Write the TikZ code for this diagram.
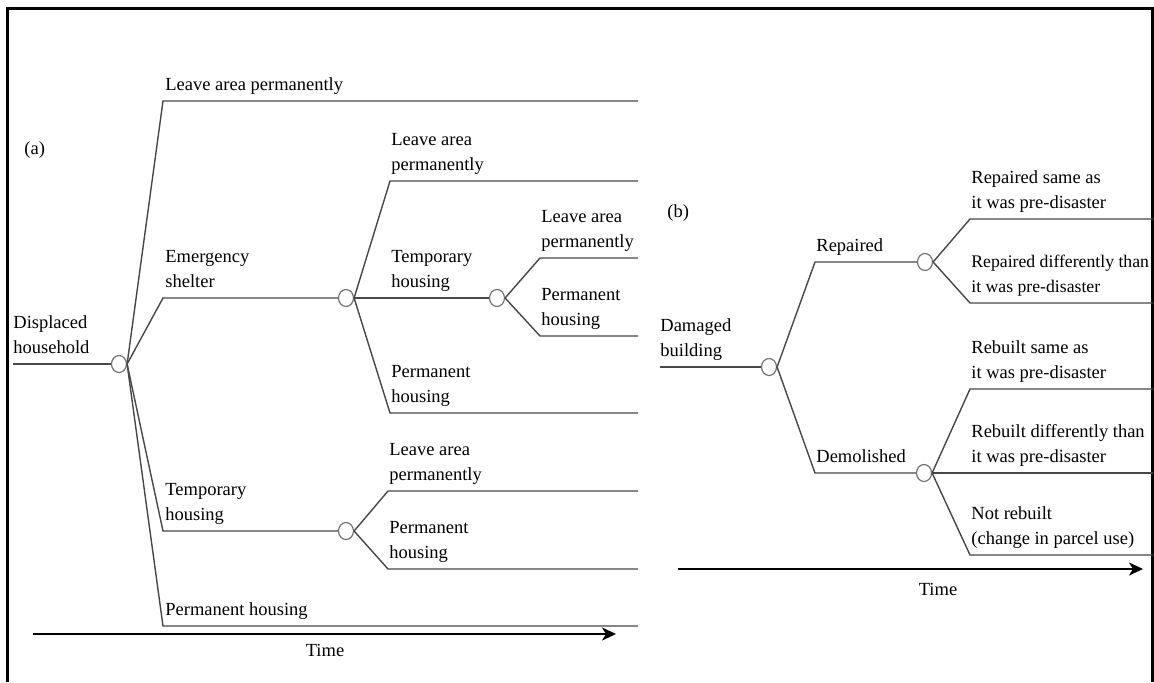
\documentclass[tikz,border=0pt]{standalone}
\usepackage{fontspec}
\setmainfont{Liberation Serif}
\usetikzlibrary{arrows.meta,shapes.geometric}
\begin{document}
\begin{tikzpicture}[x=0.5pt,y=-0.5pt,
  branch/.style={draw=black!72, line width=0.7pt},
  chance/.style={ellipse, draw=black!55, line width=0.6pt, minimum width=7.5pt, minimum height=8.5pt, inner sep=0pt, fill=white},
  lbl/.style={anchor=south west, inner sep=0pt, align=left, font=\fontsize{9.25}{12.5}\selectfont},
  plain/.style={inner sep=0pt, font=\fontsize{9.25}{12.5}\selectfont},
  timeaxis/.style={draw=black, line width=1pt, -{Stealth[length=7pt,width=6.5pt,inset=2pt]}},
  frameline/.style={draw=black, line width=1.5pt}]
\useasboundingbox (0,0) rectangle (1154,682);
% frame
\draw[frameline] (7,682) -- (7,8) -- (1152.5,8) -- (1152.5,682);

% ---------------- panel (a) ----------------
\node[plain, anchor=west] (la) at (24,150) {(a)};
\coordinate (a0) at (13,364);
\node[chance] (c1) at (119,364) {};
\node[chance] (c2) at (346,298) {};
\node[chance] (c3) at (497,298) {};
\node[chance] (c4) at (346,531) {};
\coordinate (v1) at (163,101);  \coordinate (e1) at (638,101);
\coordinate (v2) at (163,298);
\coordinate (v3) at (163,531);
\coordinate (v4) at (163,626);  \coordinate (e4) at (638,626);
\coordinate (v5) at (390,181);  \coordinate (e5) at (638,181);
\coordinate (v6) at (390,413);  \coordinate (e6) at (638,413);
\coordinate (v7) at (540,258);  \coordinate (e7) at (638,258);
\coordinate (v8) at (540,336);  \coordinate (e8) at (638,336);
\coordinate (v9) at (388,491);  \coordinate (e9) at (638,491);
\coordinate (v10) at (388,569); \coordinate (e10) at (638,569);

\draw[branch] (a0) -- (c1.west);
\draw[branch] (c1.east) -- (v1) -- (e1);
\draw[branch] (c1.east) -- (v2) -- (c2.west);
\draw[branch] (c1.east) -- (v3) -- (c4.west);
\draw[branch] (c1.east) -- (v4) -- (e4);
\draw[branch] (c2.east) -- (v5) -- (e5);
\draw[branch] (c2.east) -- (c3.west);
\draw[branch] (c2.east) -- (v6) -- (e6);
\draw[branch] (c3.east) -- (v7) -- (e7);
\draw[branch] (c3.east) -- (v8) -- (e8);
\draw[branch] (c4.east) -- (v9) -- (e9);
\draw[branch] (c4.east) -- (v10) -- (e10);

\node[lbl] (t0) at (13,361) {Displaced\\household\strut};
\node[lbl] (t1) at (165,98) {Leave area permanently\strut};
\node[lbl] (t2) at (165,295) {Emergency\\shelter\strut};
\node[lbl] (t3) at (165,528) {Temporary\\housing\strut};
\node[lbl] (t4) at (165,623) {Permanent housing\strut};
\node[lbl] (t5) at (391,178) {Leave area\\permanently\strut};
\node[lbl] (t6) at (391,295) {Temporary\\housing\strut};
\node[lbl] (t7) at (391,410) {Permanent\\housing\strut};
\node[lbl] (t8) at (541,255) {Leave area\\permanently\strut};
\node[lbl] (t9) at (541,333) {Permanent\\housing\strut};
\node[lbl] (t10) at (389,488) {Leave area\\permanently\strut};
\node[lbl] (t11) at (389,566) {Permanent\\housing\strut};

\coordinate (ta0) at (33,634);
\coordinate (ta1) at (616,634);
\draw[timeaxis] (ta0) -- (ta1);
\node[plain] (timea) at (325,650) {Time};

% ---------------- panel (b) ----------------
\node[plain, anchor=west] (lb) at (667,213) {(b)};
\coordinate (b0) at (660,367);
\node[chance] (d1) at (769,367) {};
\node[chance] (d2) at (925,262) {};
\node[chance] (d3) at (924,473) {};
\coordinate (w1) at (815,262);
\coordinate (w2) at (815,473);
\coordinate (w3) at (970,219);  \coordinate (f3) at (1153,219);
\coordinate (w4) at (970,303);  \coordinate (f4) at (1153,303);
\coordinate (w5) at (970,389);  \coordinate (f5) at (1153,389);
\coordinate (f6) at (1153,473);
\coordinate (w7) at (970,555);  \coordinate (f7) at (1153,555);

\draw[branch] (b0) -- (d1.west);
\draw[branch] (d1.east) -- (w1) -- (d2.west);
\draw[branch] (d1.east) -- (w2) -- (d3.west);
\draw[branch] (d2.east) -- (w3) -- (f3);
\draw[branch] (d2.east) -- (w4) -- (f4);
\draw[branch] (d3.east) -- (w5) -- (f5);
\draw[branch] (d3.east) -- (f6);
\draw[branch] (d3.east) -- (w7) -- (f7);

\node[lbl] (s0) at (660,364) {Damaged\\building\strut};
\node[lbl] (s1) at (816,259) {Repaired\strut};
\node[lbl] (s2) at (816,470) {Demolished\strut};
\node[lbl] (s3) at (971,216) {Repaired same as\\it was pre-disaster\strut};
\node[lbl, font=\fontsize{8.85}{12.5}\selectfont] (s4) at (971,300) {Repaired differently than\\it was pre-disaster\strut};
\node[lbl] (s5) at (971,386) {Rebuilt same as\\it was pre-disaster\strut};
\node[lbl] (s6) at (971,470) {Rebuilt differently than\\it was pre-disaster\strut};
\node[lbl] (s7) at (971,552) {Not rebuilt\\(change in parcel use)\strut};

\coordinate (tb0) at (678,569);
\coordinate (tb1) at (1143,569);
\draw[timeaxis] (tb0) -- (tb1);
\node[plain] (timeb) at (938,589) {Time};
\end{tikzpicture}
\end{document}
